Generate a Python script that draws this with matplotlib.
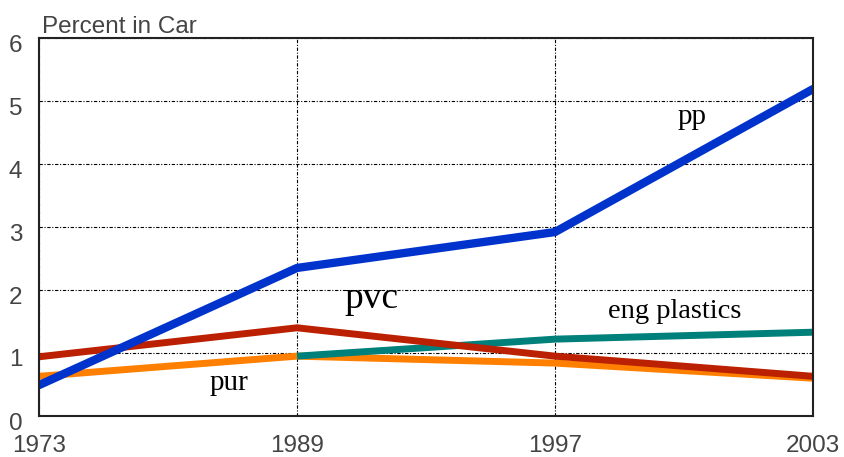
import matplotlib
matplotlib.use("Agg")
import matplotlib.pyplot as plt
from matplotlib.transforms import ScaledTranslation

years = ["1973", "1989", "1997", "2003"]
pp = [0.49, 2.35, 2.92, 5.19]
pvc = [0.94, 1.40, 0.95, 0.63]
pur = [0.63, 0.95, 0.84, 0.60]
eng_years = ["1989", "1997", "2003"]
eng = [0.95, 1.22, 1.33]
yticks = [0, 1, 2, 3, 4, 5, 6]

fig = plt.figure(figsize=(8.45, 4.57), dpi=100)
ax = fig.add_axes([39/845, 1-416/457, (813-39)/845, (416-38)/457])

x = list(range(len(years)))
xe = [years.index(y) for y in eng_years]

ax.plot(x, pur, color="#FF8000", lw=5, solid_capstyle="butt", zorder=3)
ax.plot(xe, eng, color="#00807A", lw=5, solid_capstyle="butt", zorder=4)
ax.plot(x, pvc, color="#BB2000", lw=5, solid_capstyle="butt", zorder=5)
ax.plot(x, pp, color="#0033CC", lw=6, solid_capstyle="round", zorder=6)

ax.set_xlim(0, 3)
ax.set_ylim(0, 6)
ax.set_yticks(yticks)
ax.set_xticks(x)
ax.set_xticklabels(years)
ax.tick_params(length=0, labelsize=17.5, colors="#444444", labelfontfamily="Liberation Sans")
ax.tick_params(axis="y", pad=12)
ax.tick_params(axis="x", pad=14)
off = ScaledTranslation(0, -5/100, fig.dpi_scale_trans)
for lab in ax.get_yticklabels():
    lab.set_transform(lab.get_transform() + off)
ax.grid(True, color="black", lw=0.8, linestyle=(0, (3, 1.5, 1, 1.5)), zorder=1)
for s in ax.spines.values():
    s.set_color("#222222")
    s.set_linewidth(1.5)
    s.set_zorder(7)

ax.text(0.004, 1.013, "Percent in Car", transform=ax.transAxes, ha="left", va="baseline",
        fontsize=17.5, color="#444444", family="Liberation Sans")

serif = "Liberation Serif"
ax.text(2.531, 4.63, "pp", fontsize=21, family=serif, ha="center", va="baseline")
ax.text(1.287, 1.71, "pvc", fontsize=27, family=serif, ha="center", va="baseline")
ax.text(2.465, 1.556, "eng plastics", fontsize=20.5, family=serif, ha="center", va="baseline")
ax.text(0.736, 0.41, "pur", fontsize=21, family=serif, ha="center", va="baseline")

fig.savefig("out.png", dpi=100)
